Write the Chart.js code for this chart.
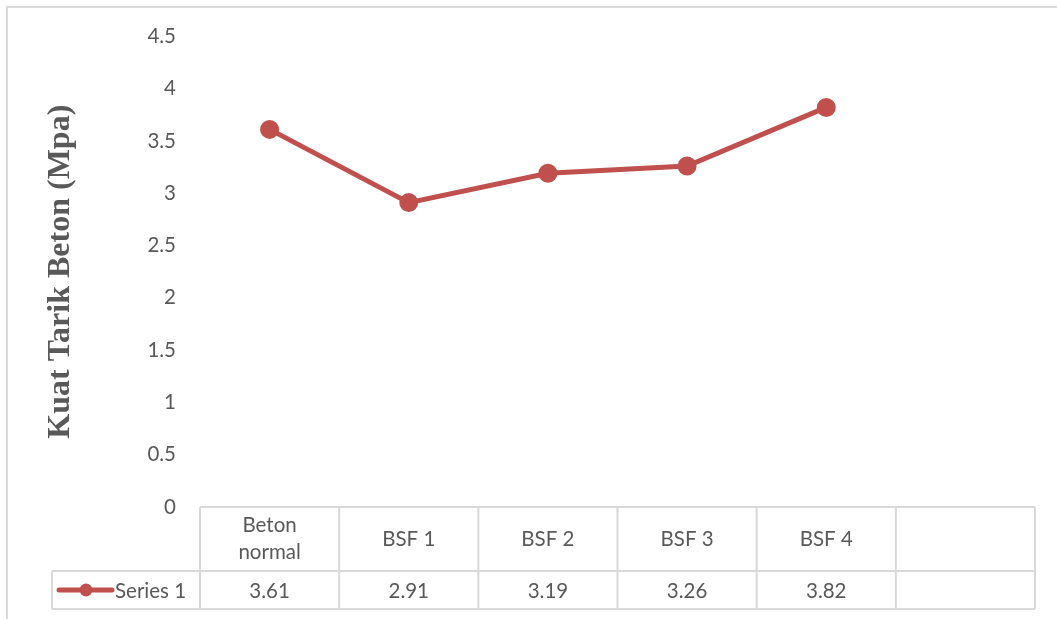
<!DOCTYPE html>
<html>
<head>
<meta charset="utf-8">
<script src="https://cdn.jsdelivr.net/npm/chart.js@4"></script>
<style>
  body { margin: 0; background: #fff; }
  #wrap { width: 1057px; height: 619px; position: relative; }
</style>
</head>
<body>
<div id="wrap"><canvas id="chart"></canvas></div>
<script>
const categories = [['Beton', 'normal'], 'BSF 1', 'BSF 2', 'BSF 3', 'BSF 4', ''];
const seriesName = 'Series 1';
const seriesValues = [3.61, 2.91, 3.19, 3.26, 3.82, null];
const yTicks = [0, 0.5, 1, 1.5, 2, 2.5, 3, 3.5, 4, 4.5];

const lineColor = '#c0504d';
const gridColor = '#d9d9d9';
const textColor = '#595959';
const labelFont = '20.5px Lato, "Open Sans", sans-serif';

// outer frame of the chart object
const frame = {
  id: 'frame',
  beforeDraw(chart) {
    const ctx = chart.ctx;
    ctx.save();
    ctx.fillStyle = '#fff';
    ctx.fillRect(0, 0, chart.width, chart.height);
    ctx.strokeStyle = gridColor;
    ctx.lineWidth = 2;
    ctx.strokeRect(7, 7, chart.width + 20, chart.height + 20);
    ctx.restore();
  }
};

// data table under the plot, columns follow the x scale
const dataTable = {
  id: 'dataTable',
  afterDraw(chart) {
    const ctx = chart.ctx;
    const x = chart.scales.x;
    const area = chart.chartArea;
    const n = categories.length;
    const colW = (area.right - area.left) / n;
    const top = area.bottom;
    const mid = top + 64;
    const bot = mid + 38;
    const legendLeft = 52;

    ctx.save();
    ctx.strokeStyle = gridColor;
    ctx.lineWidth = 2;
    ctx.beginPath();
    ctx.moveTo(area.left, top); ctx.lineTo(area.right, top);
    ctx.moveTo(legendLeft, mid); ctx.lineTo(area.right, mid);
    ctx.moveTo(legendLeft, bot); ctx.lineTo(area.right, bot);
    ctx.moveTo(legendLeft, mid); ctx.lineTo(legendLeft, bot);
    for (let i = 0; i <= n; i++) {
      const cx = area.left + i * colW;
      ctx.moveTo(cx, top); ctx.lineTo(cx, bot);
    }
    ctx.stroke();

    ctx.fillStyle = textColor;
    ctx.font = labelFont;
    ctx.textAlign = 'center';
    ctx.textBaseline = 'middle';
    categories.forEach((c, i) => {
      const cx = x.getPixelForValue(i);
      const lines = Array.isArray(c) ? c : [c];
      const lh = 27;
      const y0 = (top + mid) / 2 - (lines.length - 1) * lh / 2;
      lines.forEach((t, j) => ctx.fillText(t, cx, y0 + j * lh));
      const v = seriesValues[i];
      if (v !== null) ctx.fillText(v.toFixed(2), cx, (mid + bot) / 2 + 1);
    });

    // legend key
    const ly = (mid + bot) / 2;
    ctx.strokeStyle = lineColor;
    ctx.lineWidth = 5;
    ctx.lineCap = 'round';
    ctx.beginPath();
    ctx.moveTo(59, ly); ctx.lineTo(112, ly);
    ctx.stroke();
    ctx.fillStyle = lineColor;
    ctx.beginPath();
    ctx.arc(86, ly, 6.5, 0, Math.PI * 2);
    ctx.fill();
    ctx.fillStyle = textColor;
    ctx.textAlign = 'left';
    ctx.fillText(seriesName, 115, ly + 1);
    ctx.restore();
  }
};

new Chart(document.getElementById('chart'), {
  type: 'line',
  data: {
    labels: categories,
    datasets: [{
      label: seriesName,
      data: seriesValues,
      borderColor: lineColor,
      backgroundColor: lineColor,
      borderWidth: 5,
      pointRadius: 7,
      pointHoverRadius: 7,
      tension: 0
    }]
  },
  options: {
    responsive: true,
    maintainAspectRatio: false,
    animation: false,
    layout: { padding: { left: 7, top: 36, right: 22, bottom: 112 } },
    plugins: {
      legend: { display: false },
      tooltip: { enabled: false }
    },
    scales: {
      x: {
        display: false,
        offset: true
      },
      y: {
        min: 0,
        max: 4.5,
        afterBuildTicks(scale) {
          scale.ticks = yTicks.map(v => ({ value: v }));
        },
        afterFit(scale) {
          scale.width = 193;
        },
        grid: { display: false, drawTicks: false },
        border: { display: false },
        ticks: {
          color: textColor,
          font: { family: 'Lato, "Open Sans", sans-serif', size: 20.5 },
          padding: 24,
          callback: v => String(v)
        },
        title: {
          display: true,
          text: 'Kuat Tarik Beton (Mpa)',
          color: textColor,
          font: { family: '"Liberation Serif", "Times New Roman", serif', size: 32, weight: 'bold' },
          padding: { top: 35, bottom: 0 }
        }
      }
    }
  },
  plugins: [frame, dataTable]
});
</script>
</body>
</html>
